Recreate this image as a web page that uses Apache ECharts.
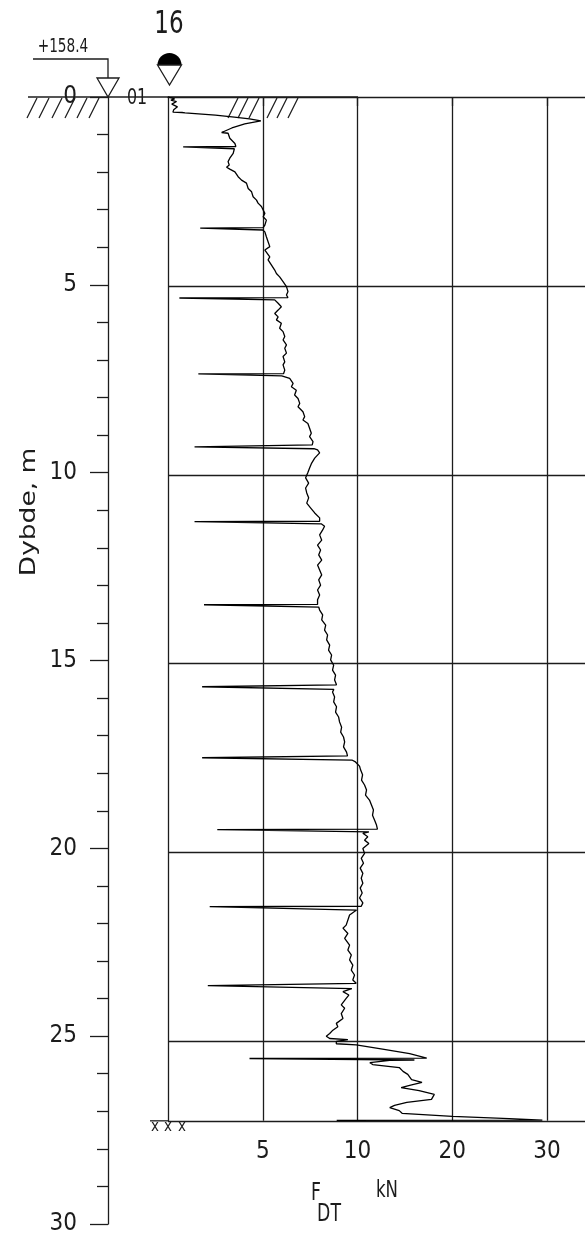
<!DOCTYPE html>
<html>
<head>
<meta charset="utf-8">
<script src="https://cdn.jsdelivr.net/npm/echarts@6/dist/echarts.min.js"></script>
<style>
  html, body { margin: 0; padding: 0; background: #fff; }
  #chart { width: 585px; height: 1236px; }
</style>
</head>
<body>
<div id="chart"></div>
<script>
// Sounding no. 16 – dynamic probe resistance F_DT (kN) logged against depth (m).
// The sharp dips to the left are the rod additions.

const soundingNo = '16';
const groundLevel = '+158.4';
const boreholeId = '01';
const stopDepth = 27.1;

// Depth of each logged point (m), ten points per row
const traceDepth = [
  0.00, 0.05, 0.08, 0.12, 0.19, 0.26, 0.34, 0.40, 0.41, 0.42,
  0.48, 0.53, 0.58, 0.63, 0.71, 0.82, 0.94, 0.96, 1.09, 1.23,
  1.31, 1.32, 1.34, 1.37, 1.40, 1.49, 1.62, 1.71, 1.80, 1.86,
  1.91, 1.98, 2.11, 2.20, 2.28, 2.42, 2.51, 2.64, 2.73, 2.81,
  2.90, 3.08, 3.17, 3.26, 3.39, 3.46, 3.47, 3.49, 3.52, 3.57,
  3.70, 3.83, 3.96, 4.05, 4.23, 4.31, 4.45, 4.58, 4.67, 4.76,
  4.89, 5.02, 5.15, 5.24, 5.31, 5.32, 5.34, 5.37, 5.46, 5.55,
  5.64, 5.73, 5.82, 5.90, 5.99, 6.12, 6.21, 6.34, 6.43, 6.56,
  6.65, 6.78, 6.87, 7.01, 7.09, 7.23, 7.32, 7.33, 7.35, 7.38,
  7.45, 7.58, 7.67, 7.76, 7.89, 7.98, 8.11, 8.20, 8.33, 8.46,
  8.55, 8.64, 8.77, 8.90, 8.99, 9.12, 9.21, 9.25, 9.26, 9.28,
  9.31, 9.34, 9.42, 9.56, 9.69, 9.82, 9.95, 10.08, 10.22, 10.35,
  10.48, 10.61, 10.75, 10.88, 11.01, 11.14, 11.23, 11.24, 11.26, 11.30,
  11.36, 11.46, 11.59, 11.73, 11.86, 11.99, 12.12, 12.26, 12.39, 12.52,
  12.65, 12.78, 12.92, 13.05, 13.18, 13.31, 13.43, 13.44, 13.46, 13.50,
  13.58, 13.71, 13.84, 13.98, 14.11, 14.24, 14.37, 14.51, 14.64, 14.77,
  14.90, 15.04, 15.17, 15.30, 15.43, 15.56, 15.60, 15.61, 15.63, 15.68,
  15.75, 15.88, 16.01, 16.14, 16.28, 16.41, 16.54, 16.68, 16.81, 16.94,
  17.07, 17.20, 17.34, 17.44, 17.48, 17.49, 17.51, 17.55, 17.60, 17.71,
  17.81, 17.94, 18.08, 18.21, 18.34, 18.48, 18.61, 18.74, 18.87, 19.01,
  19.14, 19.27, 19.38, 19.39, 19.41, 19.45, 19.49, 19.58, 19.67, 19.76,
  19.89, 20.02, 20.15, 20.28, 20.41, 20.55, 20.68, 20.81, 20.94, 21.07,
  21.20, 21.33, 21.42, 21.43, 21.45, 21.52, 21.65, 21.92, 22.00, 22.14,
  22.27, 22.45, 22.58, 22.71, 22.84, 22.98, 23.11, 23.24, 23.37, 23.46,
  23.51, 23.52, 23.54, 23.60, 23.68, 23.77, 23.86, 23.90, 24.03, 24.12,
  24.26, 24.39, 24.52, 24.61, 24.70, 24.79, 24.86, 24.92, 24.95, 25.00,
  25.06, 25.09, 25.21, 25.32, 25.44, 25.45, 25.47, 25.49, 25.50, 25.56,
  25.61, 25.69, 25.79, 25.87, 26.01, 26.08, 26.16, 26.22, 26.30, 26.40,
  26.53, 26.61, 26.69, 26.75, 26.83, 26.90, 26.98, 27.04, 27.08, 27.09
];

// Resistance at each depth (kN), same row layout
const traceForce = [
  0.02, 0.35, 0.15, 0.45, 0.20, 0.50, 0.30, 0.26, 0.74, 0.90,
  2.50, 3.50, 4.30, 4.90, 4.05, 3.37, 2.83, 3.17, 3.26, 3.53,
  3.58, 0.80, 0.80, 3.50, 3.58, 3.44, 3.26, 3.17, 3.23, 3.09,
  3.26, 3.53, 3.70, 3.88, 4.14, 4.23, 4.41, 4.49, 4.67, 4.75,
  4.93, 5.11, 5.02, 5.19, 5.11, 5.02, 1.70, 1.70, 5.00, 5.11,
  5.19, 5.28, 5.37, 5.11, 5.37, 5.28, 5.46, 5.63, 5.72, 5.89,
  6.07, 6.25, 6.33, 6.25, 6.33, 0.60, 0.60, 5.63, 5.81, 5.98,
  5.81, 5.63, 5.81, 5.72, 5.98, 5.89, 6.07, 6.16, 6.07, 6.25,
  6.16, 6.25, 6.07, 6.16, 6.07, 6.16, 6.10, 1.60, 1.60, 6.00,
  6.42, 6.60, 6.51, 6.77, 6.68, 6.86, 6.95, 6.86, 7.12, 7.21,
  7.12, 7.38, 7.47, 7.56, 7.47, 7.65, 7.61, 7.70, 1.40, 1.40,
  7.70, 7.89, 8.00, 7.74, 7.58, 7.47, 7.37, 7.26, 7.42, 7.26,
  7.32, 7.42, 7.32, 7.53, 7.74, 8.00, 8.00, 1.40, 1.40, 8.10,
  8.26, 8.16, 8.00, 8.11, 7.89, 8.05, 7.95, 8.11, 7.89, 8.00,
  8.11, 7.95, 8.05, 7.89, 8.00, 7.89, 7.89, 1.90, 1.90, 7.95,
  8.00, 8.16, 8.11, 8.32, 8.26, 8.42, 8.37, 8.53, 8.47, 8.63,
  8.58, 8.74, 8.68, 8.84, 8.79, 8.89, 8.90, 1.80, 1.80, 8.75,
  8.68, 8.79, 8.74, 8.89, 8.84, 9.00, 9.05, 9.16, 9.11, 9.26,
  9.32, 9.26, 9.42, 9.47, 9.47, 1.80, 1.80, 9.70, 9.89, 10.21,
  10.32, 10.53, 10.42, 10.74, 10.95, 10.84, 11.26, 11.47, 11.68, 11.58,
  11.79, 12.00, 12.10, 2.60, 2.60, 11.20, 10.56, 11.08, 10.74, 11.19,
  10.56, 10.74, 10.39, 10.63, 10.28, 10.56, 10.39, 10.56, 10.28, 10.49,
  10.21, 10.56, 10.39, 2.20, 2.20, 9.95, 9.58, 9.40, 9.23, 9.49,
  9.32, 9.58, 9.49, 9.67, 9.58, 9.75, 9.67, 9.84, 9.75, 9.93,
  9.90, 2.10, 2.10, 9.70, 9.23, 9.54, 9.40, 9.32, 9.14, 9.32,
  9.14, 9.23, 8.88, 8.96, 8.70, 8.53, 8.35, 8.53, 9.49, 8.88,
  8.88, 9.93, 12.8, 15.5, 17.3, 4.30, 4.30, 16.0, 13.4, 11.3,
  11.6, 14.4, 14.8, 15.3, 15.7, 16.8, 15.5, 14.6, 16.5, 18.1,
  17.8, 15.2, 13.9, 13.4, 14.4, 14.7, 20.0, 26.0, 29.5, 8.90
];

// Force axis: linear 0–10 kN, then compressed 10–30 kN (half scale)
const forceTicks = [5, 10, 20, 30];
const depthTicks = [0, 5, 10, 15, 20, 25, 30];

function toAxis(kN) { return kN <= 10 ? kN : 10 + (kN - 10) / 2; }
function fromAxis(t) { return t <= 10 ? t : 10 + (t - 10) * 2; }

const FONT = "'Liberation Sans Narrow', 'DejaVu Sans Condensed', 'Arial Narrow', sans-serif";
const INK = '#1c1c1c';
const LINE_W = 1.3;

const PPM = 37.78;          // pixels per metre of depth
const TOP = 97;             // ground surface
const PLOT_LEFT = 168;      // zero-force line
const AXIS_X = 108;         // depth scale

const chart = echarts.init(document.getElementById('chart'), null, { renderer: 'canvas' });

const data = traceDepth.map((d, i) => [toAxis(traceForce[i]), d]);

const lineStyle = { color: INK, width: LINE_W };

// Small ground hatching strokes
function hatch(xs) {
  return xs.map(x => ({
    type: 'line',
    shape: { x1: x, y1: TOP + 21, x2: x + 10, y2: TOP + 1 },
    style: { stroke: INK, lineWidth: 1.2 }
  }));
}

// Narrow drafting-style text
function label(text, x, y, size, opts) {
  return Object.assign({
    type: 'text', x: x, y: y, scaleX: 0.8,
    style: { text: text, x: 0, y: 0, align: 'center', verticalAlign: 'middle', font: size + 'px ' + FONT, fill: INK }
  }, opts || {});
}

const graphics = [
  // ground line
  { type: 'line', shape: { x1: 28, y1: TOP, x2: 358, y2: TOP }, style: { stroke: INK, lineWidth: LINE_W } },
  ...hatch([27, 39, 52, 65, 77, 89]),
  ...hatch([228, 238, 249, 267, 277, 288]),
  // level mark
  label(groundLevel, 63, 47, 19),
  { type: 'polyline', shape: { points: [[33, 59], [AXIS_X, 59], [AXIS_X, 78]] }, style: { stroke: INK, lineWidth: LINE_W, fill: null } },
  { type: 'polygon', shape: { points: [[97, 78], [119, 78], [AXIS_X, TOP]] }, style: { stroke: INK, lineWidth: LINE_W, fill: '#fff' } },
  // borehole id
  label(boreholeId, 137, 98, 22),
  // sounding number and symbol
  label(soundingNo, 169, 25, 32),
  { type: 'sector', shape: { cx: 169.5, cy: 65, r: 12, startAngle: Math.PI, endAngle: 2 * Math.PI }, style: { fill: '#000' } },
  { type: 'polygon', shape: { points: [[157.5, 65], [181.5, 65], [169.5, 85]] }, style: { stroke: INK, lineWidth: LINE_W, fill: '#fff' } },
  // stop marks at the final depth
  { type: 'line', shape: { x1: 150, y1: TOP + stopDepth * PPM, x2: PLOT_LEFT, y2: TOP + stopDepth * PPM }, style: { stroke: INK, lineWidth: LINE_W } },
  ...[155, 168, 182].map(x => label('x', x, TOP + stopDepth * PPM + 6, 15, { scaleX: 1 })),
  // axis titles
  label('Dybde, m', 30, 512, 21, { rotation: Math.PI / 2, scaleX: 1.4 }),
  label('F', 316, 1194, 24),
  label('DT', 329, 1215, 24),
  label('kN', 387, 1191, 23)
];

chart.setOption({
  animation: false,
  backgroundColor: '#fff',
  grid: [
    { left: PLOT_LEFT, right: 0, top: TOP, height: stopDepth * PPM },
    { left: AXIS_X, width: 20, top: TOP, height: 30 * PPM }
  ],
  xAxis: [
    {
      gridIndex: 0, type: 'value', position: 'bottom',
      min: 0, max: 22, interval: 5,
      axisLine: { show: true, lineStyle: lineStyle },
      axisTick: { show: true, inside: false, length: 9, customValues: forceTicks.map(toAxis), lineStyle: lineStyle },
      axisLabel: {
        show: true, customValues: forceTicks.map(toAxis), margin: 19,
        formatter: v => String(Math.round(fromAxis(v))),
        fontFamily: FONT, fontSize: 24, color: INK
      },
      splitLine: { show: true, lineStyle: { color: [INK, INK, INK, INK, INK, 'rgba(0,0,0,0)'], width: LINE_W } }
    },
    { gridIndex: 1, type: 'value', show: false, min: 0, max: 1 }
  ],
  yAxis: [
    {
      gridIndex: 0, type: 'value', inverse: true,
      min: 0, max: stopDepth, interval: 5,
      axisLine: { show: true, lineStyle: lineStyle },
      axisTick: { show: false },
      axisLabel: { show: false },
      splitLine: { show: true, lineStyle: { color: ['rgba(0,0,0,0)', INK, INK, INK, INK, INK, INK], width: LINE_W } }
    },
    {
      gridIndex: 1, type: 'value', inverse: true, position: 'left',
      min: depthTicks[0], max: depthTicks[depthTicks.length - 1], interval: 5,
      axisLine: { show: true, lineStyle: lineStyle },
      axisTick: { show: true, inside: false, length: 18, lineStyle: lineStyle },
      minorTick: { show: true, splitNumber: 5, length: 11, lineStyle: lineStyle },
      axisLabel: {
        show: true, margin: 31, padding: [0, 0, 15, 0],
        fontFamily: FONT, fontSize: 24, color: INK
      },
      splitLine: { show: false }
    }
  ],
  series: [
    {
      type: 'line',
      xAxisIndex: 0, yAxisIndex: 0,
      data: data,
      showSymbol: false,
      symbol: 'none',
      lineStyle: { color: '#000', width: 1.3 },
      clip: false,
      z: 5
    }
  ],
  graphic: graphics
});
</script>
</body>
</html>
